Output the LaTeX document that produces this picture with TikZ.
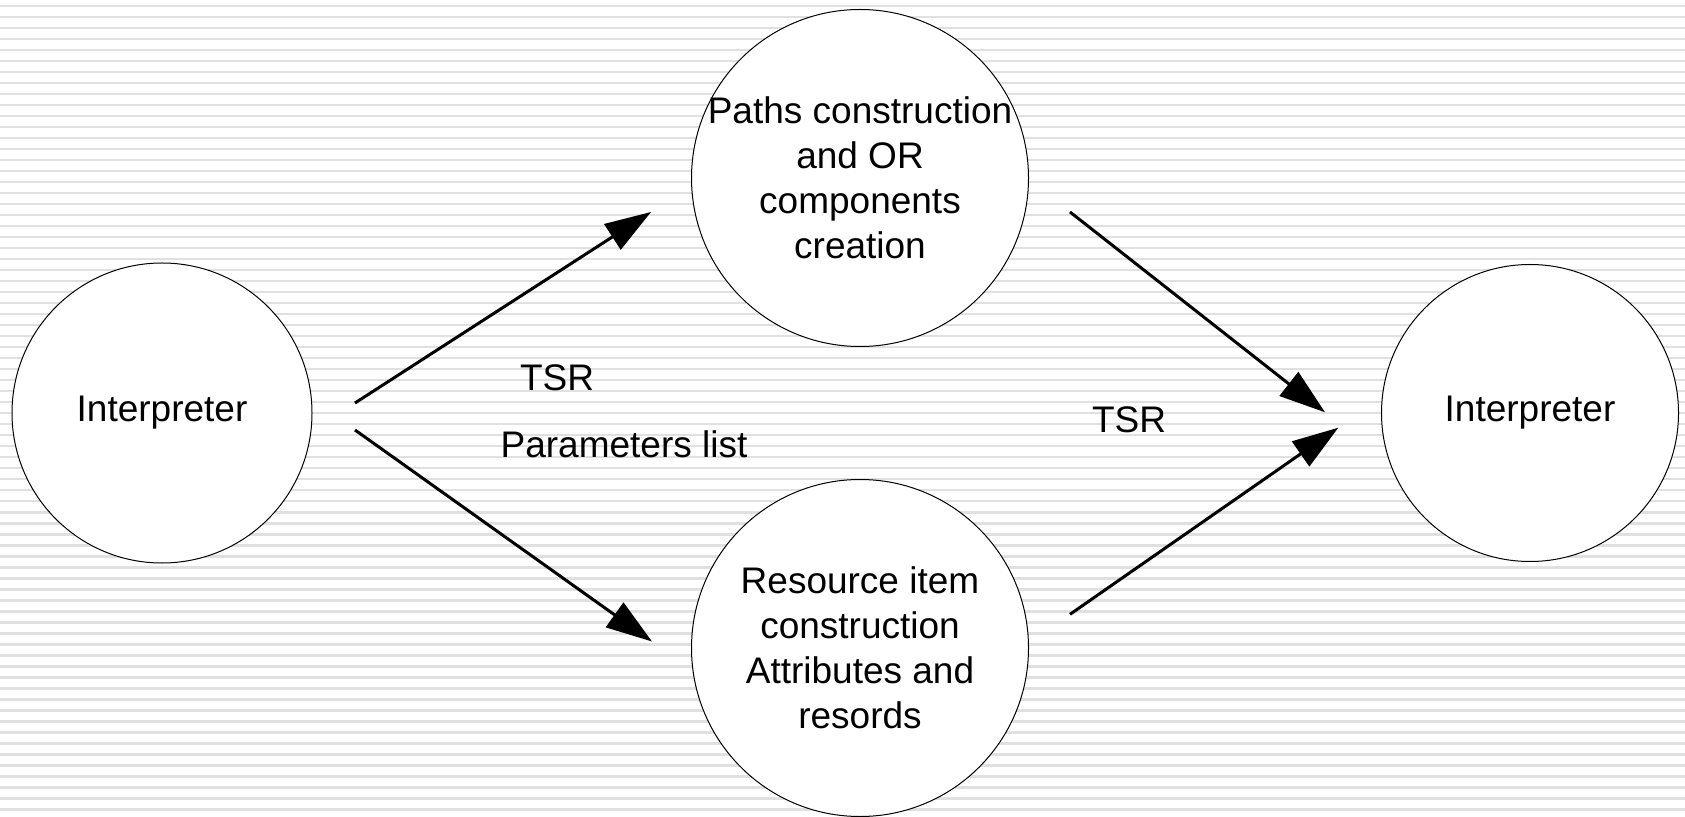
\documentclass[tikz,border=0pt]{standalone}
\usepackage{fontspec}
\setmainfont{Liberation Sans}
\usetikzlibrary{arrows.meta}
\definecolor{stripe}{RGB}{224,224,224}
\begin{document}
\begin{tikzpicture}[x=0.5pt,y=-0.5pt,
  proc/.style={circle,draw=black,line width=0.5pt,fill=white,inner sep=0pt},
  ptext/.style={align=center,inner sep=0pt,font=\fontsize{18.5}{22.5}\selectfont},
  lbl/.style={anchor=base,font=\fontsize{18.5}{22.5}\selectfont},
  flow/.style={line width=1.5pt,-{Triangle[length=23pt,width=15pt]}}]
% page and striped background
\useasboundingbox (0,0) rectangle (1685,817);
\fill[white] (0,0) rectangle (1685,817);
\foreach \k in {0,...,73}{
  \fill[stripe] (0,{5+11*\k}) rectangle (1685,{7.5+11*\k});
}
% processes: fixed-size circles with their captions on top
\node[proc,minimum size=150pt] (src) at (162,413) {};
\node[ptext] (srct) at (src.center) {\strut Interpreter};
\node[proc,minimum size=168.5pt] (paths) at (860,178) {};
\node[ptext] (pathst) at (paths.center)
  {Paths construction\\and OR\\components\\creation};
\node[proc,minimum size=168.5pt] (res) at (860,648) {};
\node[ptext] (rest) at (res.center)
  {Resource item\\construction\\Attributes and\\resords};
\node[proc,minimum size=148.5pt] (dst) at (1530,413) {};
\node[ptext] (dstt) at (dst.center) {\strut Interpreter};
% arrow end points
\coordinate (a1s) at (355,403);
\coordinate (a1e) at (651,212);
\coordinate (a2s) at (355,430);
\coordinate (a2e) at (652,641.5);
\coordinate (a3s) at (1070,212);
\coordinate (a3e) at (1325,412.3);
\coordinate (a4s) at (1070,614.3);
\coordinate (a4e) at (1338.3,427.7);
\draw[flow] (a1s) -- (a1e);
\draw[flow] (a2s) -- (a2e);
\draw[flow] (a3s) -- (a3e);
\draw[flow] (a4s) -- (a4e);
% labels
\node[lbl] (t1) at (557,390.7) {TSR};
\node[lbl] (pl) at (624,458) {Parameters list};
\node[lbl] (t2) at (1129,433) {TSR};
\end{tikzpicture}
\end{document}
